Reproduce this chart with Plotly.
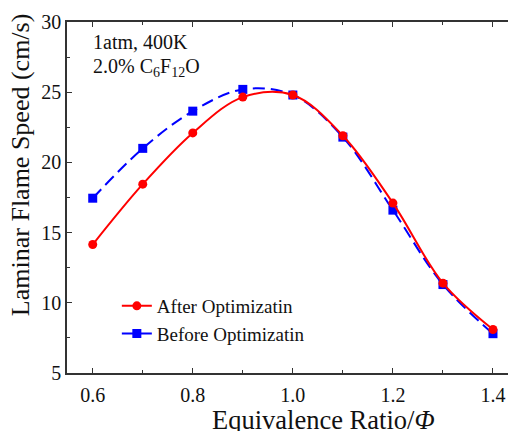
import plotly.graph_objects as go

phi = [0.6, 0.7, 0.8, 0.9, 1.0, 1.1, 1.2, 1.3, 1.4]
after_opt = [14.15, 18.45, 22.1, 24.65, 24.8, 21.9, 17.1, 11.4, 8.1]
before_opt = [17.45, 21.0, 23.65, 25.2, 24.8, 21.8, 16.6, 11.3, 7.8]

FONT = "Liberation Serif"
TXT = "#111111"
AX = "#333333"

fig = go.Figure()
fig.add_trace(go.Scatter(
    x=phi, y=before_opt, name="Before Optimizatin", mode="lines+markers", legendrank=2,
    line=dict(color="#0000ff", width=2, dash="12px,6px", shape="spline", smoothing=1),
    marker=dict(symbol="square", size=9, color="#0000ff"),
))
fig.add_trace(go.Scatter(
    x=phi, y=after_opt, name="After Optimizatin", mode="lines+markers", legendrank=1,
    line=dict(color="#ff0000", width=2, shape="spline", smoothing=1),
    marker=dict(symbol="circle", size=9, color="#ff0000"),
))

axis_common = dict(
    showgrid=False, zeroline=False, showline=True, linecolor=AX, linewidth=1.5,
    mirror="ticks", ticks="inside", ticklen=5, tickcolor=AX, tickwidth=1,
    tickfont=dict(family=FONT, size=20, color=TXT), automargin=False,
)

fig.update_layout(
    width=508, height=423,
    margin=dict(l=59, r=0, t=14, b=58),
    paper_bgcolor="white", plot_bgcolor="white",
    font=dict(family=FONT, size=18, color=TXT),
    xaxis=dict(range=[0.5486, 1.446], dtick=0.2, tick0=0.6, tickformat=".1f",
               ticklabelstandoff=3,
               minor=dict(ticks="inside", ticklen=3, dtick=0.1, tick0=0.6, tickcolor=AX),
               **axis_common),
    yaxis=dict(range=[5, 30], dtick=5, tick0=5,
               minor=dict(ticks="inside", ticklen=3, dtick=2.5, tick0=5, tickcolor=AX),
               **axis_common),
    legend=dict(x=0.111, y=0.245, xanchor="left", yanchor="top", bgcolor="rgba(0,0,0,0)",
                font=dict(family=FONT, size=19, color=TXT), tracegroupgap=0),
    showlegend=True,
)

# axis titles
fig.add_annotation(x=0.572, y=-0.135, xref="paper", yref="paper", xanchor="center", yanchor="middle",
                   text="Equivalence Ratio/<i>Φ</i>", showarrow=False,
                   font=dict(family=FONT, size=26.5, color=TXT))
fig.add_annotation(x=-0.1047, y=0.595, xref="paper", yref="paper", xanchor="center", yanchor="middle",
                   text="Laminar Flame Speed (cm/s)", textangle=-90, showarrow=False,
                   font=dict(family=FONT, size=26, color=TXT))

# condition labels
fig.add_annotation(x=0.053, y=0.943, xref="paper", yref="paper", xanchor="left", yanchor="middle",
                   text="1atm, 400K", showarrow=False, font=dict(family=FONT, size=20, color=TXT))
fig.add_annotation(x=0.053, y=0.87, xref="paper", yref="paper", xanchor="left", yanchor="middle",
                   text="2.0% C<sub>6</sub>F<sub>12</sub>O", showarrow=False,
                   font=dict(family=FONT, size=20, color=TXT))

fig.write_html("out.html")
